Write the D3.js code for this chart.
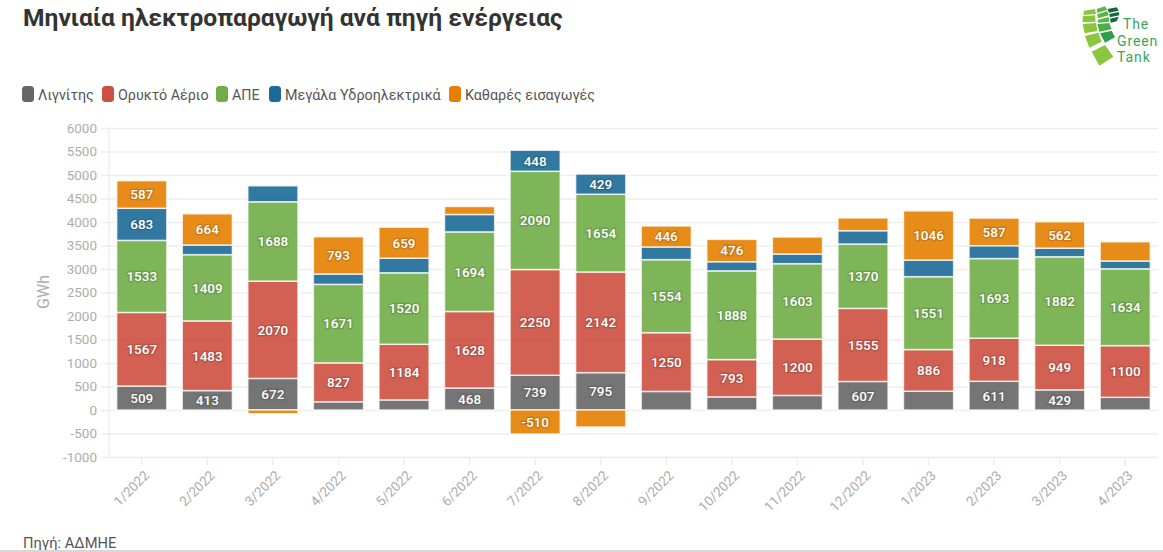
<!DOCTYPE html>
<meta charset="utf-8">
<script src="https://d3js.org/d3.v7.min.js"></script>
<style>
  html, body { margin: 0; padding: 0; background: #fff; overflow: hidden; }
  text { font-family: Roboto, "Noto Sans", sans-serif; }
</style>
<div id="chart"></div>
<script>
// values (GWh)
var months = ["1/2022","2/2022","3/2022","4/2022","5/2022","6/2022","7/2022","8/2022","9/2022","10/2022","11/2022","12/2022","1/2023","2/2023","3/2023","4/2023"];
var seriesNames = ["Λιγνίτης","Ορυκτό Αέριο","ΑΠΕ","Μεγάλα Υδροηλεκτρικά","Καθαρές εισαγωγές"];
var lignite = [509,413,672,175,215,468,739,795,395,280,310,607,400,611,429,270];
var gas = [1567,1483,2070,827,1184,1628,2250,2142,1250,793,1200,1555,886,918,949,1100];
var res = [1533,1409,1688,1671,1520,1694,2090,1654,1554,1888,1603,1370,1551,1693,1882,1634];
var hydro = [683,205,340,221,311,370,448,429,270,194,206,283,353,274,184,166];
var imports = [587,664,-80,793,659,170,-510,-362,446,476,361,270,1046,587,562,409];
var yTicks = [-1000,-500,0,500,1000,1500,2000,2500,3000,3500,4000,4500,5000,5500,6000];
var legendColors = ["#666666","#cd4f40","#70ad47","#1b6a97","#e57f00"];
var minLabel = 410; // smaller segments carry no label

var W = 1163, H = 552;
var margin = {top: 128, right: 5, bottom: 95, left: 109};

var svg = d3.select("#chart").append("svg")
    .attr("width", W)
    .attr("height", H)
    .style("display", "block");

// title
svg.append("text").attr("x", 23).attr("y", 26)
    .attr("font-size", 24.6).attr("font-weight", 700).attr("fill", "#333")
    .text("Μηνιαία ηλεκτροπαραγωγή ανά πηγή ενέργειας");

// legend
var legendX = [22, 102, 216, 269, 449];
var legend = svg.selectAll("g.leg").data(seriesNames).join("g")
    .attr("class", "leg")
    .attr("transform", (d, i) => `translate(${legendX[i]},86)`);
legend.append("rect").attr("width", 12).attr("height", 16).attr("rx", 3.5)
    .attr("fill", (d, i) => legendColors[i]);
legend.append("text").attr("x", 16).attr("y", 14)
    .attr("font-size", 14.3).attr("fill", "#555").text(d => d);

// scales
var x = d3.scaleBand().domain(months)
    .range([margin.left, W - margin.right])
    .paddingInner(0.235).paddingOuter(0.117);
var y = d3.scaleLinear().domain([-1000, 6000]).range([H - margin.bottom, margin.top]);

// y axis + grid
var yAxis = svg.append("g")
    .attr("transform", `translate(${margin.left},0)`)
    .call(d3.axisLeft(y).tickValues(yTicks).tickFormat(d => String(d))
        .tickSize(8).tickPadding(4));
yAxis.select(".domain").attr("stroke", "#eeeeee").attr("stroke-width", 1.5).attr("d", `M0,${margin.top}V${H - margin.bottom}`);
yAxis.selectAll(".tick line").attr("x2", W - margin.right - margin.left).attr("x1", -8)
    .attr("stroke", "#eeeeee").attr("stroke-width", 1.5);
yAxis.selectAll("text").attr("font-size", 13.5).attr("fill", "#adadad")
    .style("font-family", 'Roboto, sans-serif');

svg.append("text")
    .attr("transform", "translate(49,292)rotate(-90)")
    .attr("text-anchor", "middle").attr("font-size", 16).attr("fill", "#adadad")
    .text("GWh");

// x axis
var xAxis = svg.append("g")
    .attr("transform", `translate(0,${H - margin.bottom})`)
    .call(d3.axisBottom(x).tickSize(8).tickSizeOuter(0));
xAxis.select(".domain").attr("stroke", "#eeeeee").attr("stroke-width", 1.5);
xAxis.selectAll(".tick line").attr("stroke", "#eeeeee").attr("stroke-width", 1.5);
xAxis.selectAll("text")
    .attr("font-size", 13.5).attr("fill", "#adadad")
    .style("font-family", 'Roboto, sans-serif')
    .style("text-anchor", "end")
    .attr("y", 0).attr("dy", "0.35em")
    .attr("transform", "translate(5,16)rotate(-45)");

// stacked bars
var rows = months.map((m, i) => ({month: m, 0: lignite[i], 1: gas[i], 2: res[i], 3: hydro[i], 4: imports[i]}));
var stacked = d3.stack().keys([0,1,2,3,4]).offset(d3.stackOffsetDiverging)(rows);

var layer = svg.selectAll("g.layer").data(stacked).join("g")
    .attr("class", "layer");
layer.selectAll("rect").data(d => d.map(p => ({p: p, key: d.key}))).join("rect")
    .attr("x", d => x(d.p.data.month))
    .attr("width", x.bandwidth())
    .attr("y", d => y(d.p[1]))
    .attr("height", d => y(d.p[0]) - y(d.p[1]))
    .attr("fill", d => legendColors[d.key])
    .attr("fill-opacity", 0.9)
    .attr("stroke", "#ffffff").attr("stroke-opacity", 0.75).attr("stroke-width", 1.5);

// data labels
var labels = [];
stacked.forEach(s => s.forEach(p => {
    var v = p.data[s.key];
    if (Math.abs(v) >= minLabel) labels.push({v: v, m: p.data.month, mid: (p[0] + p[1]) / 2});
}));
var labelG = svg.append("g");
labelG.selectAll("text.halo").data(labels).join("text")
    .attr("class", "halo")
    .attr("x", d => x(d.m) + x.bandwidth() / 2).attr("y", d => y(d.mid)).attr("dy", "0.36em")
    .attr("text-anchor", "middle").attr("font-size", 13.5).attr("font-weight", 500)
    .attr("fill", "none").attr("stroke", "#000").attr("stroke-opacity", 0.13).attr("stroke-width", 3)
    .text(d => d.v);
labelG.selectAll("text.lab").data(labels).join("text")
    .attr("class", "lab")
    .attr("x", d => x(d.m) + x.bandwidth() / 2).attr("y", d => y(d.mid)).attr("dy", "0.36em")
    .attr("text-anchor", "middle").attr("font-size", 13.5).attr("font-weight", 500)
    .attr("fill", "#fff")
    .text(d => d.v);

// source
svg.append("text").attr("x", 23).attr("y", 548)
    .attr("font-size", 14.7).attr("fill", "#555").text("Πηγή: ΑΔΜΗΕ");
svg.append("rect").attr("x", 0).attr("y", 550).attr("width", W).attr("height", 2).attr("fill", "#d8d8d8");

// logo
var logoCells = [
  ["#8cc63f", [[72,32],[105,27],[108,42],[70,45]]],
  ["#8cc63f", [[68,49],[105,46],[107,65],[68,67]]],
  ["#8cc63f", [[68,72],[108,69],[112,93],[74,100]]],
  ["#8cc63f", [[75,108],[115,98],[125,125],[88,143]]],
  ["#8cc63f", [[95,155],[135,135],[160,170],[118,197]]],
  ["#5cb545", [[110,27],[135,19],[142,29],[112,39]]],
  ["#5cb545", [[112,43],[142,33],[146,46],[114,55]]],
  ["#5cb545", [[112,60],[146,51],[148,65],[115,68]]],
  ["#4aae4a", [[112,72],[148,69],[155,88],[118,95]]],
  ["#2f9e4f", [[120,100],[155,92],[165,112],[135,128]]],
  ["#0f6b3a", [[143,27],[170,22],[176,32],[147,38]]],
  ["#0f6b3a", [[148,42],[176,36],[178,46],[150,52]]],
  ["#0f6b3a", [[150,56],[176,50],[170,64],[152,68]]]
];
var logo = svg.append("g").attr("transform", "translate(1060,0) scale(0.3333)");
logo.selectAll("polygon").data(logoCells).join("polygon")
    .attr("points", d => d[1].map(p => p.join(",")).join(" "))
    .attr("fill", d => d[0]);
var logoWords = [["The",1123,29],["Green",1117,45.5],["Tank",1117,62]];
svg.selectAll("text.logo").data(logoWords).join("text")
    .attr("class", "logo")
    .attr("x", d => d[1]).attr("y", d => d[2])
    .attr("font-size", 14).attr("letter-spacing", 0.9).attr("fill", "#3aa655")
    .text(d => d[0]);
</script>
